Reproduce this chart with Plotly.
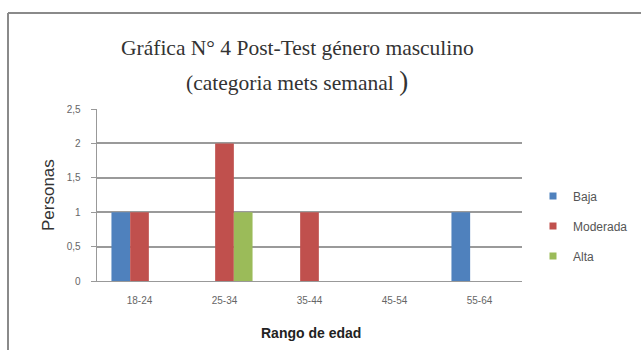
import plotly.graph_objects as go

categories = ["18-24", "25-34", "35-44", "45-54", "55-64"]
baja = [1, 0, 0, 0, 1]
moderada = [1, 2, 1, 0, 0]
alta = [0, 1, 0, 0, 0]
y_ticks = [0, 0.5, 1, 1.5, 2, 2.5]
y_tick_text = ["0", "0,5", "1", "1,5", "2", "2,5"]

W, H = 641, 350
L, R, T, B = 97, 119, 109, 69
pw, ph = W - L - R, H - T - B

def px_x(x):
    return (x - L) / pw

def px_y(y):
    return (H - B - y) / ph

series = [("Baja", baja, "#4F81BD"), ("Moderada", moderada, "#C0504D"), ("Alta", alta, "#9BBB59")]

fig = go.Figure()
for name, vals, col in series:
    fig.add_trace(go.Bar(x=categories, y=vals, name=name, marker=dict(color=col, line=dict(width=0)),
                         showlegend=False))
for name, vals, col in series:
    fig.add_trace(go.Scatter(x=[None], y=[None], mode="markers", name=name, legendgroup=name,
                             marker=dict(symbol="square", size=7, color=col), showlegend=True))

fig.update_layout(
    width=W, height=H,
    margin=dict(l=L, r=R, t=T, b=B, autoexpand=False),
    paper_bgcolor="white", plot_bgcolor="white",
    separators=",.",
    barmode="group", bargap=0.34, bargroupgap=0,
    xaxis=dict(showgrid=False, showline=True, linecolor="#999999", linewidth=1, automargin=False,
               tickfont=dict(family="Liberation Sans", size=10, color="#666666"),
               ticks="outside", ticklen=10, tickcolor="rgba(0,0,0,0)"),
    yaxis=dict(range=[0, 2.5], tickvals=y_ticks, ticktext=[t + "\u00a0\u00a0\u00a0" for t in y_tick_text],
               showgrid=True, automargin=False,
               gridcolor="#9a9a9a", gridwidth=1.5, showline=True, linecolor="#999999", linewidth=1,
               ticks="outside", ticklen=5, tickcolor="#999999", zeroline=False,
               tickfont=dict(family="Liberation Sans", size=10, color="#666666")),
    legend=dict(x=px_x(533), xanchor="left", y=px_y(226), yanchor="middle",
                font=dict(family="Liberation Sans", size=12, color="#555555"),
                tracegroupgap=11, itemwidth=30, bgcolor="rgba(0,0,0,0)"),
    showlegend=True,
)

annots = [
    dict(text="Gráfica N° 4 Post-Test género masculino", x=px_x(297), y=px_y(48),
         font=dict(family="Liberation Serif", size=21.5, color="#333333")),
    dict(text="(categoria mets semanal <span style='font-size:27px'>)</span>", x=px_x(297), y=px_y(81),
         font=dict(family="Liberation Serif", size=21.5, color="#333333")),
    dict(text="Personas", x=px_x(48), y=px_y(195), textangle=-90,
         font=dict(family="Liberation Sans", size=17, color="#333333")),
    dict(text="<b>Rango de edad</b>", x=px_x(311), y=px_y(333),
         font=dict(family="Liberation Sans", size=14, color="#222222")),
]
for a in annots:
    fig.add_annotation(xref="paper", yref="paper", xanchor="center", yanchor="middle", showarrow=False, **a)

fig.add_shape(type="line", xref="paper", yref="paper", x0=px_x(8), x1=px_x(641), y0=px_y(13), y1=px_y(13),
              line=dict(color="#8a8a8a", width=2))
fig.add_shape(type="line", xref="paper", yref="paper", x0=px_x(8), x1=px_x(8), y0=px_y(13), y1=px_y(350),
              line=dict(color="#8a8a8a", width=2))

fig.write_html("out.html", config={"displayModeBar": False},
               post_script="document.body.style.margin='0';")
